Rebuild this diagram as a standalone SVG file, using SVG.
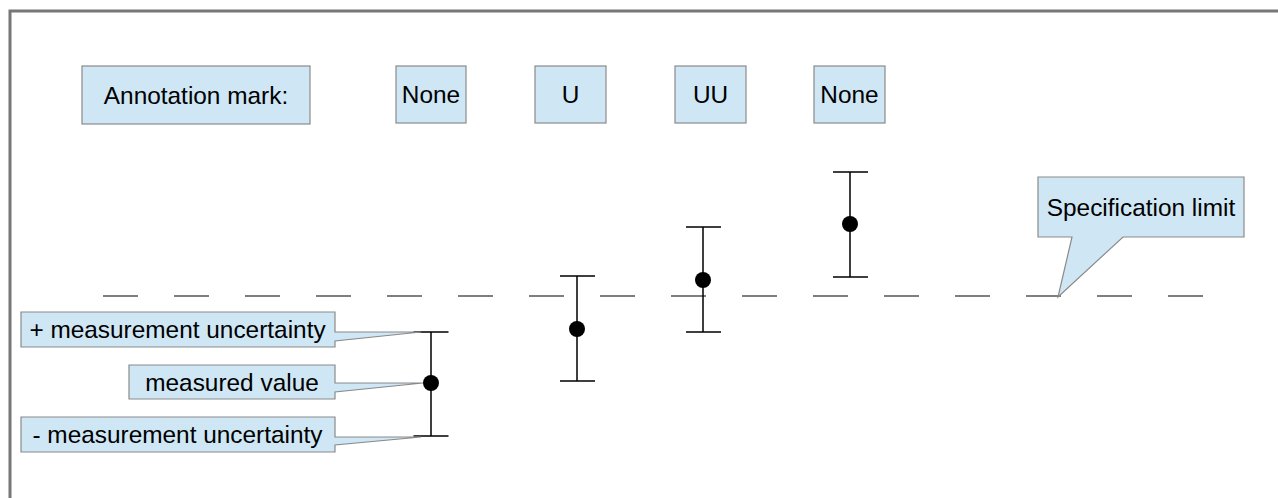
<svg xmlns="http://www.w3.org/2000/svg" width="1278" height="498" viewBox="0 0 1278 498">
  <style>
    .box { fill: #cfe7f5; stroke: #8a8a8a; stroke-width: 1.2; }
    .lbl { font-family: "Liberation Sans", Arial, sans-serif; font-size: 24.4px; fill: #000; text-anchor: middle; }
    .bar { stroke: #000; stroke-width: 1.5; fill: none; }
    .dot { fill: #000; }
    .limit { stroke: #555; stroke-width: 1.5; stroke-dasharray: 35 36; fill: none; }
  </style>
  <rect x="0" y="0" width="1278" height="498" fill="#fff"/>
  <rect id="frame" x="10" y="11" width="1300" height="520" fill="none" stroke="#777" stroke-width="3"/>

  <g id="annotation-mark">
    <rect class="box" x="82" y="66" width="228" height="58"/>
    <text class="lbl" x="196" y="103.5">Annotation mark:</text>
  </g>
  <g id="mark-1">
    <rect class="box" x="396" y="66" width="70" height="57"/>
    <text class="lbl" x="431" y="103">None</text>
  </g>
  <g id="mark-2">
    <rect class="box" x="535" y="66" width="71" height="57"/>
    <text class="lbl" x="570.5" y="103">U</text>
  </g>
  <g id="mark-3">
    <rect class="box" x="675" y="66" width="71" height="57"/>
    <text class="lbl" x="710.5" y="103">UU</text>
  </g>
  <g id="mark-4">
    <rect class="box" x="814" y="66" width="71" height="57"/>
    <text class="lbl" x="849.5" y="103">None</text>
  </g>

  <g id="connectors">
    <line class="limit" x1="103" y1="296" x2="1204" y2="296"/>
  </g>

  <g id="bar-1">
    <path class="bar" d="M413.5,332 H448.5 M431,332 V436 M413.5,436 H448.5"/>
    <circle class="dot" cx="431" cy="383" r="8"/>
  </g>
  <g id="bar-2">
    <path class="bar" d="M560,276 H595 M577,276 V381 M560,381 H595"/>
    <circle class="dot" cx="577" cy="329" r="8"/>
  </g>
  <g id="bar-3">
    <path class="bar" d="M686,227 H721 M703,227 V332 M686,332 H721"/>
    <circle class="dot" cx="703" cy="280" r="8"/>
  </g>
  <g id="bar-4">
    <path class="bar" d="M833,172 H868 M850,172 V277 M833,277 H868"/>
    <circle class="dot" cx="850" cy="224" r="8"/>
  </g>

  <g id="callout-plus">
    <path class="box" d="M21,312 H335 V332 L421,332 L335,341 V347 H21 Z"/>
    <text class="lbl" x="177.5" y="338">+ measurement uncertainty</text>
  </g>
  <g id="callout-value">
    <path class="box" d="M129,365 H335 V383 L423,383 L335,392 V399 H129 Z"/>
    <text class="lbl" x="232" y="390.5">measured value</text>
  </g>
  <g id="callout-minus">
    <path class="box" d="M21,417 H335 V437 L421,437 L335,445 V452 H21 Z"/>
    <text class="lbl" x="177.5" y="443">- measurement uncertainty</text>
  </g>
  <g id="callout-limit">
    <path class="box" d="M1038,177 H1244 V237 H1123 L1058,297 L1072,237 H1038 Z"/>
    <text class="lbl" x="1141" y="215.5">Specification limit</text>
  </g>
</svg>
